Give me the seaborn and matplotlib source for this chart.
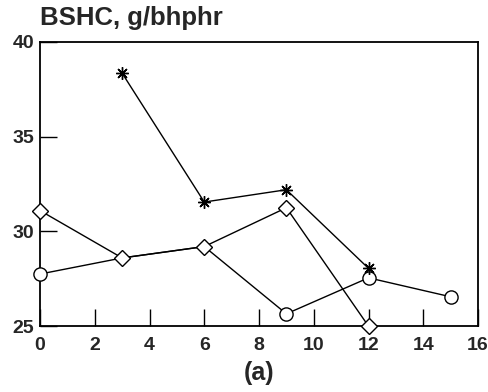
import matplotlib
matplotlib.use("Agg")
import matplotlib.pyplot as plt
import seaborn as sns
import pandas as pd

# BSHC emissions (g/bhphr) versus time
star_x = [3, 6, 9, 12]
star_y = [38.35, 31.55, 32.2, 28.05]

diamond_x = [0, 3, 6, 9, 12]
diamond_y = [31.1, 28.6, 29.2, 31.25, 25.0]

circle_x = [0, 3, 6, 9, 12, 15]
circle_y = [27.75, 28.6, 29.2, 25.65, 27.55, 26.55]

x_ticks = [0, 2, 4, 6, 8, 10, 12, 14, 16]
y_ticks = [25, 30, 35, 40]

sns.set_theme(style="white")
plt.rcParams['font.family'] = ['Liberation Sans', 'DejaVu Sans']
plt.rcParams['font.weight'] = 'bold'

fig = plt.figure(figsize=(4.88, 3.92), dpi=100)
ax = fig.add_axes([0.082, 0.168, 0.8975, 0.725])

df_c = pd.DataFrame({"x": circle_x, "y": circle_y})
df_d = pd.DataFrame({"x": diamond_x, "y": diamond_y})
df_s = pd.DataFrame({"x": star_x, "y": star_y})

sns.lineplot(data=df_c, x="x", y="y", ax=ax, color="black", lw=1.0,
             marker="o", markersize=9.5, markerfacecolor="white",
             markeredgecolor="black", markeredgewidth=1.0,
             markevery=[0, 3, 4, 5], clip_on=False, zorder=3)
sns.lineplot(data=df_d, x="x", y="y", ax=ax, color="black", lw=1.0,
             marker="D", markersize=8.5, markerfacecolor="white",
             markeredgecolor="black", markeredgewidth=1.0,
             clip_on=False, zorder=4)
sns.lineplot(data=df_s, x="x", y="y", ax=ax, color="black", lw=1.0,
             marker=(8, 2, 0), markersize=9, markeredgecolor="black",
             markeredgewidth=1.0, clip_on=False, zorder=5)

ax.set_xlim(0, 16)
ax.set_ylim(25, 40)
ax.set_xticks(x_ticks)
ax.set_yticks(y_ticks)
ax.set_xticklabels([str(v) for v in x_ticks], fontsize=14, fontweight='bold')
ax.set_yticklabels([str(v) for v in y_ticks], fontsize=14, fontweight='bold')
ax.tick_params(axis='both', direction='in', length=12, width=1.0,
               color='black', bottom=True, left=True)
ax.tick_params(axis='x', pad=8)
ax.tick_params(axis='y', pad=4)
for side in ['left', 'bottom', 'top', 'right']:
    ax.spines[side].set_visible(True)
    ax.spines[side].set_color('black')
    ax.spines[side].set_linewidth(1.3)

ax.set_xlabel("(a)", fontsize=18, fontweight='bold', labelpad=5)
ax.set_ylabel("")
fig.text(0.082, 0.953, "BSHC, g/bhphr", fontsize=18.5, fontweight='bold',
         ha='left', va='center')

fig.savefig("out.png", dpi=100, facecolor="white")
